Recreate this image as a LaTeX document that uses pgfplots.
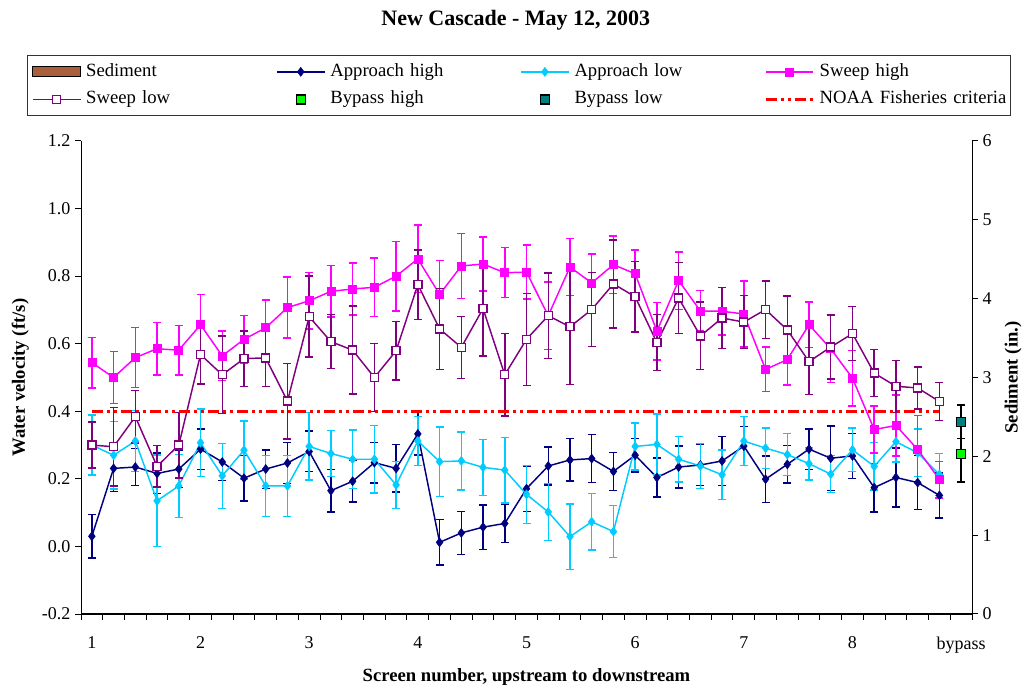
\documentclass[border=0pt]{standalone}
\usepackage{fontspec}
\setmainfont{Liberation Serif}
\usepackage{pgfplots}
\usepackage{pgfplotstable}
\pgfplotsset{compat=1.18}
\definecolor{apphigh}{RGB}{0,0,128}
\definecolor{applow}{RGB}{0,204,255}
\definecolor{swhigh}{RGB}{255,0,255}
\definecolor{swlow}{RGB}{128,0,128}
\definecolor{byhigh}{RGB}{0,255,0}
\definecolor{bylow}{RGB}{0,128,128}
\definecolor{sedlight}{RGB}{245,200,170}
\definecolor{seddark}{RGB}{170,95,60}

\pgfplotstableread{
x y e
0 0.030 0.064
1 0.231 0.068
2 0.235 0.055
3 0.216 0.060
4 0.229 0.055
5 0.288 0.060
6 0.250 0.055
7 0.202 0.067
8 0.229 0.057
9 0.247 0.060
10 0.281 0.060
11 0.165 0.063
12 0.193 0.061
13 0.248 0.060
14 0.231 0.070
15 0.333 0.063
16 0.012 0.067
17 0.040 0.064
18 0.057 0.066
19 0.068 0.057
20 0.171 0.067
21 0.238 0.056
22 0.256 0.063
23 0.260 0.071
24 0.222 0.056
25 0.270 0.050
26 0.204 0.058
27 0.235 0.062
28 0.241 0.060
29 0.253 0.073
30 0.297 0.058
31 0.199 0.069
32 0.243 0.055
33 0.288 0.060
34 0.261 0.096
35 0.268 0.067
36 0.174 0.072
37 0.204 0.087
38 0.189 0.080
39 0.151 0.067
}\apphightab

\pgfplotstableread{
x y e
0 0.300 0.089
1 0.270 0.100
2 0.312 0.090
3 0.135 0.135
4 0.179 0.093
5 0.307 0.100
6 0.209 0.096
7 0.285 0.086
8 0.179 0.090
9 0.179 0.090
10 0.296 0.100
11 0.275 0.068
12 0.258 0.087
13 0.258 0.100
14 0.182 0.070
15 0.312 0.073
16 0.251 0.103
17 0.253 0.086
18 0.234 0.083
19 0.226 0.097
20 0.154 0.086
21 0.102 0.084
22 0.029 0.097
23 0.073 0.083
24 0.044 0.077
25 0.296 0.070
26 0.302 0.090
27 0.258 0.067
28 0.238 0.067
29 0.212 0.073
30 0.312 0.072
31 0.291 0.060
32 0.272 0.062
33 0.245 0.048
34 0.214 0.055
35 0.286 0.065
36 0.237 0.070
37 0.310 0.060
38 0.277 0.070
39 0.213 0.062
}\applowtab

\pgfplotstableread{
x y e
0 0.544 0.075
1 0.500 0.077
2 0.559 0.089
3 0.585 0.078
4 0.581 0.073
5 0.656 0.090
6 0.564 0.073
7 0.613 0.070
8 0.647 0.083
9 0.707 0.090
10 0.727 0.083
11 0.755 0.076
12 0.762 0.077
13 0.767 0.086
14 0.800 0.103
15 0.851 0.100
16 0.746 0.100
17 0.830 0.096
18 0.836 0.080
19 0.810 0.074
20 0.812 0.080
21 0.683 0.100
22 0.827 0.085
23 0.780 0.085
24 0.834 0.085
25 0.807 0.070
26 0.637 0.085
27 0.787 0.085
28 0.697 0.060
29 0.696 0.070
30 0.688 0.098
31 0.524 0.066
32 0.553 0.075
33 0.656 0.067
34 0.585 0.100
35 0.498 0.082
36 0.346 0.070
37 0.358 0.090
38 0.287 0.100
39 0.198 0.054
}\swhightab

\pgfplotstableread{
x y e
0 0.300 0.068
1 0.295 0.116
2 0.384 0.078
3 0.237 0.061
4 0.300 0.097
5 0.568 0.087
6 0.508 0.115
7 0.556 0.082
8 0.558 0.085
9 0.430 0.112
10 0.680 0.120
11 0.606 0.080
12 0.581 0.130
13 0.500 0.100
14 0.579 0.087
15 0.775 0.103
16 0.644 0.120
17 0.589 0.092
18 0.704 0.140
19 0.508 0.122
20 0.613 0.136
21 0.683 0.126
22 0.650 0.170
23 0.701 0.110
24 0.777 0.130
25 0.739 0.105
26 0.603 0.083
27 0.735 0.105
28 0.623 0.100
29 0.676 0.090
30 0.664 0.078
31 0.701 0.085
32 0.641 0.100
33 0.547 0.098
34 0.590 0.095
35 0.630 0.080
36 0.513 0.070
37 0.474 0.077
38 0.469 0.062
39 0.429 0.056
}\swlowtab

\pgfplotsset{
  mylines/.style={legend image code/.code={%
    \draw[mark repeat=2,mark phase=2,##1] plot coordinates {(0pt,0pt) (17.9pt,0pt) (35.8pt,0pt)};}},
}

\begin{document}
\begin{tikzpicture}
\useasboundingbox (0,0) rectangle (767.25pt,516pt);
\begin{axis}[
  scale only axis, width=668.25pt, height=354.75pt,
  at={(60.75pt,55.5pt)}, anchor=south west,
  xmin=-0.5, xmax=40.5, ymin=-0.2, ymax=1.2,
  axis x line*=bottom, axis y line*=left, axis line style={-},
  x axis line style={line width=1.5pt},
  y axis line style={line width=0.75pt},
  xtick={0,5,10,15,20,25,30,35,40},
  xticklabels={1,2,3,4,5,6,7,8,bypass},
  minor xtick={-0.5,0.5,...,40.5},
  major x tick style={draw=none},
  tick align=outside, major tick length=4.5pt, minor tick length=4.5pt,
  tick style={black, line width=0.75pt},
  ytick={-0.2,0,0.2,0.4,0.6,0.8,1.0,1.2},
  /pgf/number format/.cd, fixed, fixed zerofill, precision=1, assume math mode=true, /pgfplots/.cd,
  tick label style={font=\fontsize{13.5}{16}\selectfont},
  xticklabel style={yshift=-9pt},
  title={New Cascade - May 12, 2003},
  title style={font=\bfseries\fontsize{16.5}{20}\selectfont, at={(axis description cs:0.488,1.238)}, anchor=center},
  xlabel={Screen number, upstream to downstream},
  xlabel style={font=\bfseries\fontsize{14}{17}\selectfont, at={(axis description cs:0.5,-0.134)}, anchor=center},
  ylabel={Water velocity (ft/s)},
  ylabel style={font=\bfseries\fontsize{14}{17}\selectfont, at={(axis description cs:-0.068,0.5)}, anchor=center},
  legend columns=4,
  legend cell align=left,
  legend style={at={(axis description cs:-0.0603,1.1818)}, anchor=north west,
    draw=black!80, line width=0.75pt, inner xsep=3.2pt, inner ysep=6pt,
    font=\fontsize{14}{17}\selectfont, row sep=8.25pt, column sep=0pt,
    nodes={inner sep=0pt, text width=140pt, align=left, text height=9.5pt, text depth=3pt},
    /tikz/every odd column/.append style={column sep=3.75pt},
    /tikz/every even column/.append style={column sep=2.45pt}},
  mylines,
]
\addlegendimage{legend image code/.code={\draw[draw=black, line width=0.75pt, top color=seddark, middle color=sedlight, bottom color=seddark] (0pt,-3.75pt) rectangle (35.8pt,3.75pt);}}
\addlegendentry{Sediment}

\addplot[color=apphigh, line width=1.1pt, mark=diamond*, mark size=3.3pt, mark options={solid, line width=0.5pt},
  error bars/.cd, y dir=both, y explicit, error bar style={color=apphigh, line width=1.1pt},
  error mark options={color=apphigh, line width=1.1pt, mark size=3pt, rotate=90}]
  table[x=x, y=y, y error=e] {\apphightab};
\addlegendentry{Approach high}

\addplot[color=applow, line width=1.1pt, mark=diamond*, mark size=3.3pt, mark options={solid, line width=0.5pt},
  error bars/.cd, y dir=both, y explicit, error bar style={color=applow, line width=1.1pt},
  error mark options={color=applow, line width=1.1pt, mark size=3pt, rotate=90}]
  table[x=x, y=y, y error=e] {\applowtab};
\addlegendentry{Approach low}

\addplot[color=swhigh, line width=1.1pt, mark=square*, mark size=3pt, mark options={solid, line width=0.5pt},
  error bars/.cd, y dir=both, y explicit, error bar style={color=swhigh, line width=1.1pt},
  error mark options={color=swhigh, line width=1.1pt, mark size=3pt, rotate=90}]
  table[x=x, y=y, y error=e] {\swhightab};
\addlegendentry{Sweep high}

\addplot[color=swlow, draw=swlow, line width=1.1pt, mark=square*, mark size=3pt, mark options={solid, draw=swlow, fill=white, line width=1pt},
  error bars/.cd, y dir=both, y explicit, error bar style={color=swlow, line width=1.1pt},
  error mark options={color=swlow, line width=1.1pt, mark size=3pt, rotate=90}]
  table[x=x, y=y, y error=e] {\swlowtab};
\addlegendentry{Sweep low}

\addplot[only marks, mark=square*, mark size=3.4pt, mark options={draw=black, fill=byhigh, line width=0.9pt},
  error bars/.cd, y dir=both, y explicit, error bar style={color=black, line width=1pt},
  error mark options={color=black, line width=1pt, mark size=3pt, rotate=90}]
  coordinates {(40,0.274) +- (0,0.083)};
\addlegendentry{Bypass high}

\addplot[only marks, mark=square*, mark size=3.4pt, mark options={draw=black, fill=bylow, line width=0.9pt},
  error bars/.cd, y dir=both, y explicit, error bar style={color=black, line width=1pt},
  error mark options={color=black, line width=1pt, mark size=3pt, rotate=90}]
  coordinates {(40,0.369) +- (0,0.050)};
\addlegendentry{Bypass low}

\addplot[color=red, line width=1.9pt, dash pattern=on 8.25pt off 3pt on 2.25pt off 3pt on 2.25pt off 3pt, mark=none]
  coordinates {(0,0.4) (39,0.4)};
\addlegendentry{NOAA Fisheries criteria}
\end{axis}

\begin{axis}[
  scale only axis, width=668.25pt, height=354.75pt,
  at={(60.75pt,55.5pt)}, anchor=south west,
  xmin=-0.5, xmax=40.5, ymin=0, ymax=6,
  axis x line=none, axis y line*=right, axis line style={-},
  y axis line style={line width=0.75pt},
  ytick={0,1,2,3,4,5,6},
  tick align=outside, major tick length=4.5pt,
  tick style={black, line width=0.75pt},
  /pgf/number format/assume math mode=true,
  tick label style={font=\fontsize{13.5}{16}\selectfont},
  ylabel={Sediment (in.)},
  ylabel style={font=\bfseries\fontsize{14}{17}\selectfont, at={(axis description cs:1.046,0.5)}, anchor=center},
]
\end{axis}
\end{tikzpicture}
\end{document}
